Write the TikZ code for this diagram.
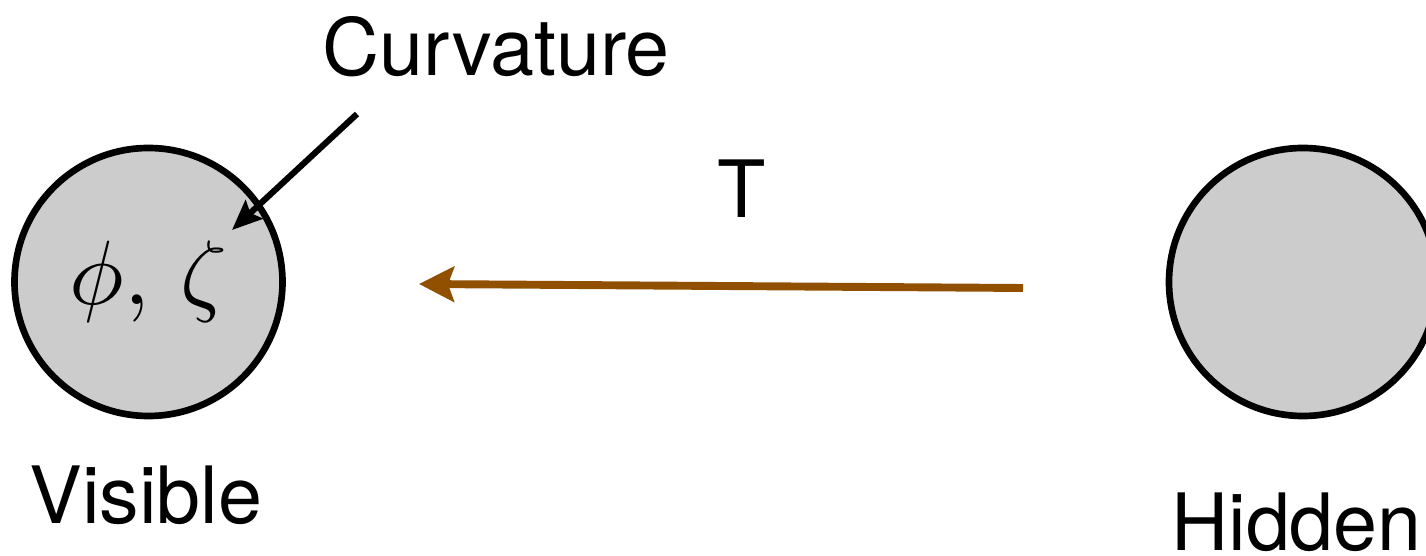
\documentclass[tikz,border=0pt]{standalone}
\usepackage{graphicx}
\usepackage{fontspec}
\setmainfont{TeX Gyre Heros}
\usetikzlibrary{arrows.meta, positioning}
\definecolor{cafeFlecha}{HTML}{915000}
\definecolor{grisNodo}{HTML}{CCCCCC}
\tikzset{
  nodoCirculo/.style={
    circle, draw=black, line width=3.8pt, fill=grisNodo,
    minimum size=5.36cm, inner sep=0pt
  },
  etiqueta/.style={font=\fontsize{45}{50}\selectfont, text=black, inner sep=0pt},
  flecha/.style={-{Stealth[length=0.6cm, width=0.5cm, inset=0.1cm]}, line width=3.5pt, black},
  flechaCafe/.style={-{Stealth[length=0.7cm, width=0.7cm, inset=0.12cm]}, line width=4.5pt, cafeFlecha},
}
\begin{document}
\begin{tikzpicture}
    \useasboundingbox (0,0) rectangle (28.52,11.12);

    \node[nodoCirculo] (visible) at (2.97,5.48) {\scalebox{5.2}{$\phi,\,\zeta$}};
    \node[nodoCirculo] (oculto) at (26.06,5.48) {};

    \node[etiqueta, anchor=base] (curvatura) at (9.92,9.6) {Curvature};
    \node[etiqueta, anchor=base] (etiquetaT) at (14.84,6.76) {T};
    \node[etiqueta, anchor=base] (textoVisible) at (2.92,0.64) {Visible};
    \node[etiqueta, anchor=base west] (textoOculto) at (23.42,0.1) {Hidden};

    % extremos libres de las flechas
    \coordinate (inicioCurv) at (7.14,8.84);
    \coordinate (finCurv) at (4.64,6.52);
    \coordinate (inicioT) at (20.46,5.36);
    \coordinate (finT) at (8.38,5.44);

    \draw[flecha] (inicioCurv) -- (finCurv);
    \draw[flechaCafe] (inicioT) -- (finT);
\end{tikzpicture}
\end{document}
